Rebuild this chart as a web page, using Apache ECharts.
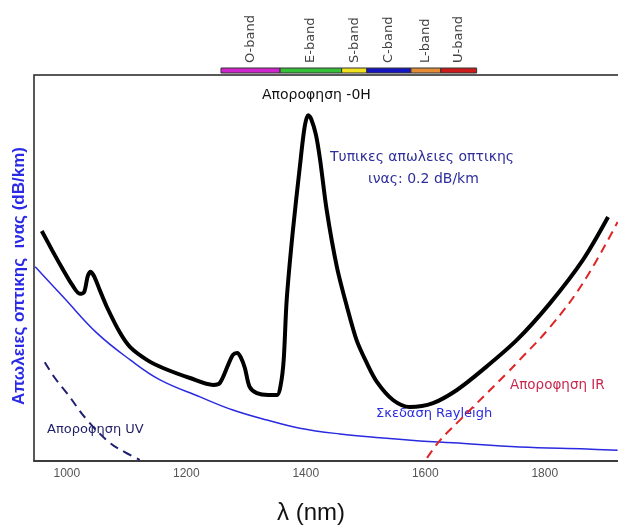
<!DOCTYPE html>
<html>
<head>
<meta charset="UTF-8">
<title>Απωλειες οπτικης ινας</title>
<script src="https://cdn.jsdelivr.net/npm/echarts@6/dist/echarts.min.js"></script>
<style>html,body,#container{width:100%;height:100%;margin:0;padding:0;background:#fff;}</style>
</head>
<body>
<div id="container"></div>
<script>
// λ (nm) / απώλειες (σχετικές μονάδες 0-100)
var xTicks = [1000, 1200, 1400, 1600, 1800];

var totalLoss = [
  [958, 59.6], [975, 54.7], [992, 50.0], [1009, 45.6], [1022, 43.3], [1029, 43.8],
  [1035, 47.9], [1040, 49.0], [1047, 47.4], [1055, 44.3], [1067, 39.9], [1089, 33.2],
  [1106, 29.5], [1134, 26.2], [1161, 24.1], [1206, 21.5], [1245, 19.7], [1256, 20.2],
  [1270, 24.9], [1278, 27.5], [1285, 28.0], [1291, 26.9], [1298, 24.1], [1306, 19.2],
  [1318, 17.6], [1337, 17.1], [1352, 17.1], [1358, 19.7], [1363, 26.2], [1368, 41.7],
  [1378, 59.1], [1390, 76.2], [1398, 86.5], [1404, 89.6], [1409, 88.6], [1417, 84.5],
  [1424, 78.0], [1435, 65.0], [1452, 50.3], [1469, 39.9], [1485, 31.3], [1502, 25.4],
  [1519, 20.5], [1546, 15.8], [1574, 14.0], [1613, 15.0], [1653, 18.4], [1696, 23.6],
  [1753, 31.3], [1809, 40.9], [1864, 52.1], [1906, 63.2]
];

var rayleigh = [
  [947, 50.3], [994, 42.5], [1050, 33.2], [1106, 26.2], [1156, 21.0], [1223, 16.6],
  [1278, 13.2], [1335, 10.6], [1390, 8.5], [1457, 7.0], [1524, 6.0], [1591, 5.2],
  [1646, 4.7], [1758, 3.6], [1870, 3.1], [1922, 2.8]
];

var uvAbs = [
  [963, 25.6], [980, 21.5], [1000, 17.6], [1034, 10.6], [1072, 4.7], [1097, 2.3], [1122, 0.3]
];

var irAbs = [
  [1603, 0.8], [1625, 5.4], [1658, 10.6], [1680, 14.0], [1737, 22.8], [1758, 26.2],
  [1809, 34.7], [1864, 46.1], [1922, 61.9]
];

// ζώνες: [αρχή, τέλος, όνομα, χρώμα]
var bands = [
  [1258, 1357, 'O-band', '#d024cc'],
  [1357, 1460, 'E-band', '#36c03a'],
  [1460, 1502, 'S-band', '#f2e21e'],
  [1502, 1576, 'C-band', '#1414c0'],
  [1576, 1626, 'L-band', '#e48c34'],
  [1626, 1686, 'U-band', '#cc1a1a']
];

var chart = echarts.init(document.getElementById('container'));

var option = {
  backgroundColor: '#fff',
  animation: false,
  grid: [
    { left: 34, right: -2, top: 75, bottom: 65, outerBoundsMode: 'none', containLabel: false,
      show: true, borderColor: '#222', borderWidth: 1.5 },
    { left: 34, right: -2, top: 68, height: 5, outerBoundsMode: 'none', containLabel: false }
  ],
  xAxis: [{
    type: 'value', gridIndex: 0, min: 945, max: 1926,
    axisLine: { show: true, lineStyle: { color: '#333', width: 1.5 } },
    axisTick: { show: false },
    splitLine: { show: false },
    axisLabel: {
      customValues: xTicks, color: '#555', fontSize: 12, margin: 7, fontFamily: 'Liberation Sans',
      formatter: function (v) { return String(v); }
    },
    name: 'λ (nm)', nameLocation: 'middle', nameGap: 40,
    nameTextStyle: { fontSize: 24, color: '#111', fontFamily: 'Liberation Sans', padding: [0, 32, 0, 0] }
  }, {
    type: 'value', gridIndex: 1, min: 945, max: 1926, show: false
  }],
  yAxis: [{
    type: 'value', gridIndex: 0, min: 0, max: 100,
    axisLine: { show: false }, axisTick: { show: false },
    axisLabel: { show: false }, splitLine: { show: false },
    name: 'Απωλειες οπτικης  ινας (dB/km)', nameLocation: 'middle', nameGap: 6,
    nameTextStyle: { fontSize: 17, fontWeight: 'bold', color: '#2a2ae6', fontFamily: 'Liberation Sans', padding: [0, 16, 0, 0] }
  }, {
    type: 'value', gridIndex: 1, min: 0, max: 1, show: false
  }],
  graphic: [
    { type: 'text', left: 262, top: 88, style: { text: 'Απορoφηση -0H', fill: '#111', font: '14px DejaVu Sans' } },
    { type: 'text', left: 330, top: 150, style: { text: 'Τυπικες απωλειες οπτικης', fill: '#2e2e9c', font: '14px DejaVu Sans' } },
    { type: 'text', left: 368, top: 172, style: { text: 'ινας: 0.2 dB/km', fill: '#2e2e9c', font: '14px DejaVu Sans' } },
    { type: 'text', left: 47, top: 423, style: { text: 'Απορoφηση UV', fill: '#1f1f66', font: '13px DejaVu Sans' } },
    { type: 'text', left: 376, top: 407, style: { text: 'Σκεδαση Rayleigh', fill: '#2a2ae0', font: '13px DejaVu Sans' } },
    { type: 'text', left: 510, top: 378, style: { text: 'Απορoφηση IR', fill: '#c8284f', font: '13.5px DejaVu Sans' } }
  ],
  series: [
    {
      name: 'Rayleigh', type: 'line', xAxisIndex: 0, yAxisIndex: 0,
      data: rayleigh, smooth: 0.4, showSymbol: false,
      lineStyle: { color: '#2a2ae0', width: 1.5 }
    },
    {
      name: 'UV', type: 'line', xAxisIndex: 0, yAxisIndex: 0,
      data: uvAbs, smooth: 0.4, showSymbol: false,
      lineStyle: { color: '#1f1f70', width: 2, type: [9, 6] }
    },
    {
      name: 'IR', type: 'line', xAxisIndex: 0, yAxisIndex: 0,
      data: irAbs, smooth: 0.4, showSymbol: false,
      lineStyle: { color: '#e02424', width: 2, type: [9, 6] }
    },
    {
      name: 'total', type: 'line', xAxisIndex: 0, yAxisIndex: 0,
      data: totalLoss, smooth: 0.3, showSymbol: false,
      lineStyle: { color: '#000', width: 4 }
    },
    {
      name: 'bands', type: 'custom', xAxisIndex: 1, yAxisIndex: 1,
      data: bands, clip: false,
      renderItem: function (params, api) {
        var p0 = api.coord([api.value(0), 1]);
        var p1 = api.coord([api.value(1), 0]);
        var b = bands[params.dataIndex];
        return {
          type: 'group',
          children: [{
            type: 'rect',
            shape: { x: p0[0], y: p0[1], width: p1[0] - p0[0], height: p1[1] - p0[1] },
            style: { fill: b[3], stroke: '#333', lineWidth: 1 }
          }, {
            type: 'text',
            x: (p0[0] + p1[0]) / 2, y: p0[1] - 5, rotation: Math.PI / 2,
            style: { text: b[2], fill: '#444', font: '13px DejaVu Sans', align: 'left', verticalAlign: 'middle' }
          }]
        };
      }
    }
  ]
};

chart.setOption(option);
</script>
</body>
</html>
